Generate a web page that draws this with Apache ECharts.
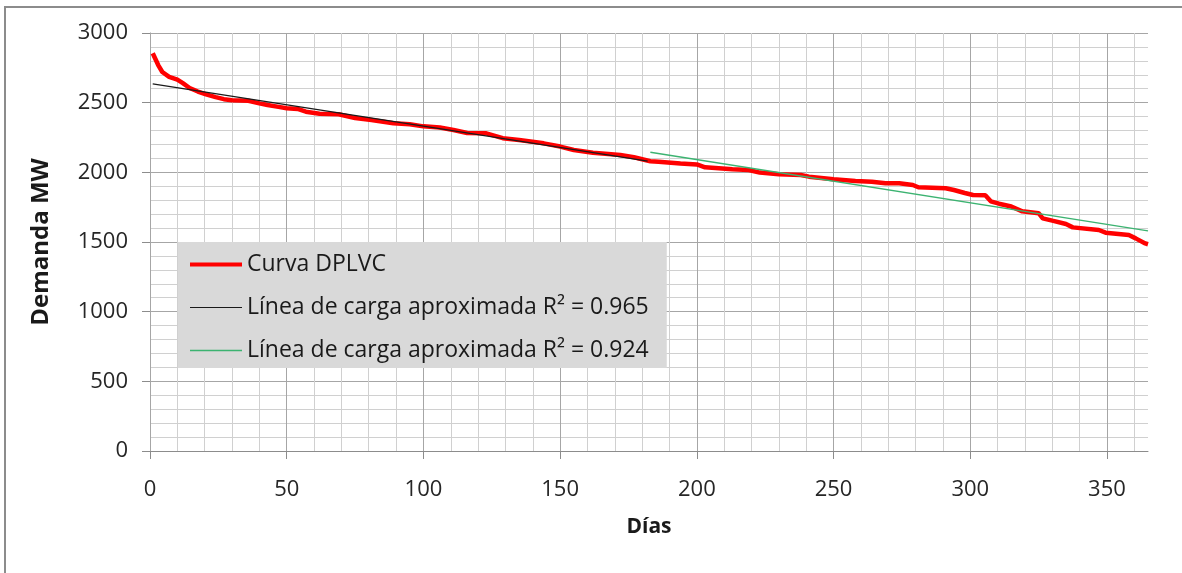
<!DOCTYPE html>
<html>
<head>
<meta charset="utf-8">
<script src="https://cdn.jsdelivr.net/npm/echarts@6/dist/echarts.min.js"></script>
<style>
  html, body { margin: 0; padding: 0; background: #fff; }
  #chart { width: 1182px; height: 573px; }
</style>
</head>
<body>
<div id="chart"></div>
<script>
// Load duration curve (days sorted by demand) and two linear approximations
const curveDays = [1, 3, 4.5, 7, 10, 12, 14.5, 17.5, 20.5, 24, 27, 30, 36, 40, 43, 47, 50, 54, 57, 62,
  69, 75, 81, 89, 95, 100, 106, 111, 116, 123, 129, 135, 144, 150, 155, 162, 172, 177, 183, 186,
  194, 200, 203, 208, 213, 219, 223, 230, 238, 241, 250, 258, 264, 269, 274, 279, 281, 291, 294, 298,
  301, 305.5, 307.5, 310.5, 315, 319, 325, 326.5, 330, 335, 337.5, 347, 349.5, 358, 360.5, 364, 365];
const curveMW = [2855, 2770, 2720, 2685, 2665, 2640, 2605, 2580, 2560, 2540, 2525, 2518, 2514, 2495, 2483, 2470, 2460, 2455, 2435, 2420,
  2417, 2390, 2376, 2352, 2345, 2330, 2322, 2304, 2282, 2280, 2245, 2232, 2208, 2185, 2160, 2141, 2124, 2108, 2080, 2076,
  2064, 2057, 2036, 2030, 2022, 2017, 1998, 1986, 1981, 1969, 1950, 1938, 1933, 1921, 1921, 1909, 1893, 1886, 1873, 1852,
  1837, 1835, 1792, 1775, 1755, 1720, 1707, 1670, 1653, 1629, 1605, 1586, 1567, 1550, 1526, 1490, 1484];

const fit1Days = [1, 182];
const fit1MW = [2635, 2080];
const fit2Days = [183, 365];
const fit2MW = [2144, 1580];

const xTicks = [0, 50, 100, 150, 200, 250, 300, 350];
const yTicks = [0, 500, 1000, 1500, 2000, 2500, 3000];

const seriesNames = ['Curva DPLVC', 'Línea de carga aproximada R² = 0.965', 'Línea de carga aproximada R² = 0.924'];
const seriesColors = ['#ff0000', '#1a1a1a', '#3cb371'];
const seriesWidths = [4.5, 1.2, 1.4];

const pairs = (xs, ys) => xs.map((x, i) => [x, ys[i]]);

const FONT = 'Open Sans';
const X_MAX = 365;

// split lines: the extra tick ECharts adds at the axis max stays invisible
const majorXColors = xTicks.map(() => '#a6a6a6').concat(['rgba(0,0,0,0)']);
const minorXCount = Math.floor(X_MAX / 10) + 1;
const minorXColors = Array.from({ length: minorXCount }, () => '#d0d0d0').concat(['rgba(0,0,0,0)']);

const lineSeries = (i, data, z) => ({
  name: seriesNames[i],
  type: 'line',
  xAxisIndex: 0,
  data: data,
  showSymbol: false,
  symbol: 'none',
  lineStyle: { color: seriesColors[i], width: seriesWidths[i] },
  itemStyle: { color: seriesColors[i] },
  z: z
});

const chart = echarts.init(document.getElementById('chart'), null, { renderer: 'canvas' });

chart.setOption({
  animation: false,
  backgroundColor: '#ffffff',
  textStyle: { fontFamily: FONT },
  graphic: [{
    type: 'rect',
    shape: { x: 5, y: 7, width: 1300, height: 700 },
    style: { fill: 'none', stroke: '#8c8c8c', lineWidth: 2 },
    z: 100
  }],
  grid: { left: 150, right: 34, top: 33, bottom: 122, containLabel: false },
  legend: {
    orient: 'vertical',
    left: 178,
    top: 242,
    backgroundColor: '#d9d9d9',
    padding: [11, 18, 6, 10],
    itemWidth: 52,
    itemHeight: 20,
    itemGap: 20,
    itemStyle: { opacity: 0 },
    textStyle: { fontFamily: FONT, fontSize: 23, color: '#1a1a1a' },
    data: seriesNames.map((name, i) => ({
      name: name,
      lineStyle: { width: seriesWidths[i] === 4.5 ? 4 : seriesWidths[i], color: seriesColors[i] }
    }))
  },
  xAxis: [{
    type: 'value',
    min: 0,
    max: X_MAX,
    interval: 50,
    name: 'Días',
    nameLocation: 'middle',
    nameGap: 66,
    nameTextStyle: { fontFamily: FONT, fontSize: 21, fontWeight: 'bold', color: '#1a1a1a' },
    axisLine: { show: true, lineStyle: { color: '#8c8c8c', width: 1 } },
    axisTick: { show: true, length: 8, lineStyle: { color: '#8c8c8c' } },
    axisLabel: { fontFamily: FONT, fontSize: 22, color: '#262626', margin: 28, showMaxLabel: false },
    splitLine: { show: true, lineStyle: { color: majorXColors, width: 1 } },
    z: 3
  }, {
    type: 'value',
    min: 0,
    max: X_MAX,
    interval: 10,
    show: true,
    axisLine: { show: false },
    axisTick: { show: false },
    axisLabel: { show: false },
    splitLine: { show: true, lineStyle: { color: minorXColors, width: 1 } },
    z: 1
  }],
  yAxis: {
    type: 'value',
    min: 0,
    max: 3000,
    interval: 500,
    name: 'Demanda MW',
    nameLocation: 'middle',
    nameGap: 97,
    nameRotate: 90,
    nameTextStyle: { fontFamily: FONT, fontSize: 24, fontWeight: 'bold', color: '#1a1a1a' },
    axisLine: { show: true, lineStyle: { color: '#8c8c8c', width: 1 } },
    axisTick: { show: true, length: 8, lineStyle: { color: '#8c8c8c' } },
    axisLabel: { fontFamily: FONT, fontSize: 22, color: '#262626', margin: 22, formatter: v => String(v) },
    splitLine: { show: true, lineStyle: { color: '#a6a6a6', width: 1 } },
    minorTick: { show: false, splitNumber: 5 },
    minorSplitLine: { show: true, lineStyle: { color: '#d0d0d0', width: 1 } }
  },
  series: [
    lineSeries(0, pairs(curveDays, curveMW), 5),
    lineSeries(1, pairs(fit1Days, fit1MW), 6),
    lineSeries(2, pairs(fit2Days, fit2MW), 6)
  ]
});
</script>
</body>
</html>
